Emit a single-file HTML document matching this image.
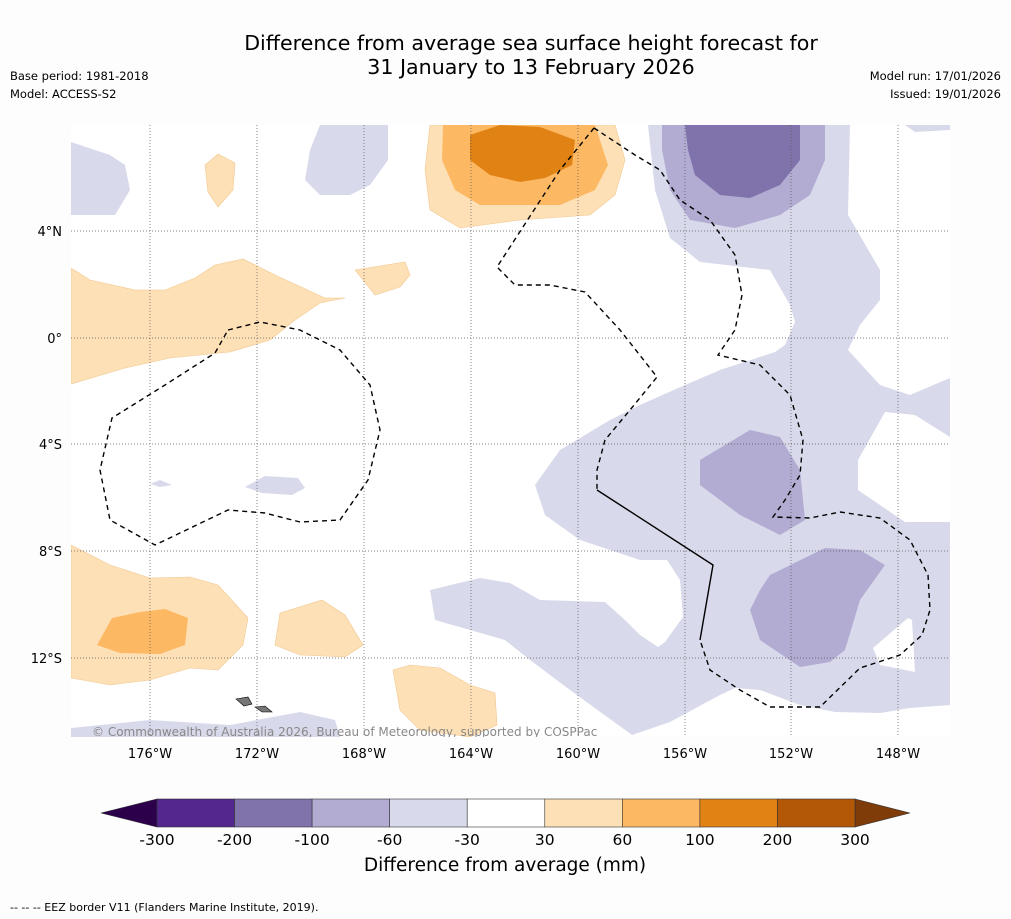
<!DOCTYPE html>
<html><head><meta charset="utf-8"><style>
body{margin:0;background:#fdfdfd;font-family:"DejaVu Sans","Liberation Sans",sans-serif;}
svg{display:block}
</style></head><body>
<svg width="1011" height="919" viewBox="0 0 1011 919">
<rect width="1011" height="919" fill="#fdfdfd"/>
<text x="531" y="50" font-size="20.6" text-anchor="middle" fill="#000">Difference from average sea surface height forecast for</text>
<text x="531" y="74" font-size="20.6" text-anchor="middle" fill="#000">31 January to 13 February 2026</text>
<text x="10" y="80" font-size="11.5">Base period: 1981-2018</text>
<text x="10" y="98" font-size="11.5">Model: ACCESS-S2</text>
<text x="1001" y="80" font-size="11.5" text-anchor="end">Model run: 17/01/2026</text>
<text x="1001" y="98" font-size="11.5" text-anchor="end">Issued: 19/01/2026</text>
<defs><clipPath id="mc"><rect x="71" y="125" width="879" height="612"/></clipPath></defs>
<g clip-path="url(#mc)">
<rect x="71" y="125" width="879" height="612" fill="#fff"/>
<g fill="#d8daeb">
<polygon points="648,125 850,125 848,215 880,270 880,300 860,325 848,350 880,385 910,395 950,378 950,437 915,415 885,412 858,460 858,490 905,522 950,522 950,705 910,708 880,713 835,712 800,705 760,690 735,688 720,695 670,722 632,735 570,690 530,660 505,640 435,620 430,590 480,578 510,583 540,600 605,602 625,620 640,635 658,647 665,642 683,617 680,580 667,560 640,560 580,540 545,515 535,485 560,450 610,420 640,405 685,385 720,370 775,352 785,345 795,322 790,305 770,270 700,262 670,238 655,190"/>
<polygon points="71,142 110,155 125,165 130,190 115,215 71,215"/>
<polygon points="320,125 388,125 388,160 370,185 350,195 320,195 305,180 310,150"/>
<polygon points="905,125 950,125 950,130 915,132"/>
<polygon points="71,728 150,720 230,725 300,712 335,720 340,737 71,737"/>
<polygon points="150,484 160,480 172,485 160,487"/>
<polygon points="245,487 265,476 298,478 305,488 292,495 262,493"/>
</g>
<polygon fill="#fff" points="873,648 908,618 912,620 915,672 880,665"/>
<g fill="#b2abd2">
<polygon points="662,125 825,125 825,160 810,195 780,215 735,228 690,220 670,190 662,150"/>
<polygon points="700,460 750,430 780,437 800,470 805,520 780,535 740,515 700,485"/>
<polygon points="770,575 825,548 860,550 885,565 860,600 845,650 830,662 800,667 760,640 750,610 760,590"/>
</g>
<polygon fill="#8073ac" points="685,125 800,125 800,160 780,185 750,198 720,195 695,175 688,150"/>
<g fill="#fee0b6" stroke="#f0c890" stroke-width="0.6">
<polygon points="430,125 615,125 625,160 615,195 590,215 520,220 460,228 430,210 425,170"/>
<polygon points="71,268 90,280 135,290 165,290 195,278 215,265 243,259 275,275 325,298 345,298 320,303 295,320 270,340 230,352 170,358 125,368 71,384"/>
<polygon points="205,165 218,154 235,163 233,190 218,207 208,192"/>
<polygon points="355,270 405,262 410,275 400,287 375,295"/>
<polygon points="71,545 110,565 150,578 190,577 218,585 248,618 243,645 218,670 190,668 150,680 110,685 71,678"/>
<polygon points="280,613 322,600 345,615 363,645 345,657 300,655 275,645"/>
<polygon points="393,670 410,665 440,668 470,685 495,693 497,725 470,737 420,730 400,710"/>
</g>
<g fill="#fdb863">
<polygon points="443,125 595,125 608,165 595,190 560,205 480,205 455,190 442,160"/>
<polygon points="97,645 112,618 140,612 165,609 188,618 185,645 160,654 120,653"/>
</g>
<polygon fill="#e08214" points="470,135 500,125 540,127 575,140 572,165 545,178 520,182 490,175 470,160"/>
<g stroke="#555" stroke-width="0.7" stroke-dasharray="1,2">
<line x1="150" y1="125" x2="150" y2="737"/><line x1="257" y1="125" x2="257" y2="737"/><line x1="364" y1="125" x2="364" y2="737"/><line x1="471" y1="125" x2="471" y2="737"/><line x1="578" y1="125" x2="578" y2="737"/><line x1="685" y1="125" x2="685" y2="737"/><line x1="791" y1="125" x2="791" y2="737"/><line x1="898" y1="125" x2="898" y2="737"/>
<line x1="71" y1="231" x2="950" y2="231"/><line x1="71" y1="338" x2="950" y2="338"/><line x1="71" y1="444" x2="950" y2="444"/><line x1="71" y1="551" x2="950" y2="551"/><line x1="71" y1="658" x2="950" y2="658"/>
</g>
<g fill="none" stroke="#000" stroke-width="1.4">
<polyline stroke-dasharray="5,4" points="594,128 560,170 497,267 515,285 550,285 585,292 620,330 657,377 630,410 605,440 597,470 597,490"/>
<polyline points="597,490 713,565 700,640"/>
<polyline stroke-dasharray="5,4" points="594,128 635,155 660,170 680,200 710,220 735,255 742,295 735,330 718,355 760,365 790,395 803,440 800,475 785,500 773,517 810,518 840,512 880,518 910,540 928,575 930,610 922,635 900,655 860,668 820,707 770,707 740,690 710,670 700,640"/>
<polygon stroke-dasharray="5,4" points="228,330 260,322 300,330 340,350 370,385 380,430 368,480 340,520 300,522 265,513 228,510 155,545 110,520 100,470 112,418 165,385 215,353"/>
</g>
<g fill="#777" stroke="#000" stroke-width="0.6">
<polygon points="236,699 248,697 252,704 244,706"/><polygon points="255,707 265,706 272,712 262,712"/>
</g>
<text x="92" y="736" font-size="12" fill="#888">© Commonwealth of Australia 2026, Bureau of Meteorology, supported by COSPPac</text>
</g>
<g font-size="13" fill="#000">
<text x="62" y="236" text-anchor="end">4°N</text><text x="62" y="343" text-anchor="end">0°</text><text x="62" y="449" text-anchor="end">4°S</text><text x="62" y="556" text-anchor="end">8°S</text><text x="62" y="663" text-anchor="end">12°S</text>
<text x="150" y="758" text-anchor="middle">176°W</text><text x="257" y="758" text-anchor="middle">172°W</text><text x="364" y="758" text-anchor="middle">168°W</text><text x="471" y="758" text-anchor="middle">164°W</text><text x="578" y="758" text-anchor="middle">160°W</text><text x="685" y="758" text-anchor="middle">156°W</text><text x="791" y="758" text-anchor="middle">152°W</text><text x="898" y="758" text-anchor="middle">148°W</text>
</g>
<g id="cbar"></g>
<text x="505" y="871" font-size="18.5" text-anchor="middle">Difference from average (mm)</text>
<text x="10" y="911" font-size="11">-- -- -- EEZ border V11 (Flanders Marine Institute, 2019).</text>
</svg>
<script>
const levels=[-300,-200,-100,-60,-30,30,60,100,200,300];
const colors=["#54278f","#8073ac","#b2abd2","#d8daeb","#ffffff","#fee0b6","#fdb863","#e08214","#b35806"];
const ns="http://www.w3.org/2000/svg";
const g=document.getElementById('cbar');
const x0=157,x1=855,y0=799,h=28,w=(x1-x0)/colors.length;
function mk(t,a){const e=document.createElementNS(ns,t);for(const k in a)e.setAttribute(k,a[k]);g.appendChild(e);return e;}
let tl=mk('polygon',{points:`101,${y0+h/2} ${x0},${y0} ${x0},${y0+h}`,fill:'#2d004b',stroke:'#333','stroke-width':0.6});


let tr=mk('polygon',{points:`910,${y0+h/2} ${x1},${y0} ${x1},${y0+h}`,fill:'#7f3b08',stroke:'#333','stroke-width':0.6});


colors.forEach((c,i)=>{
 const r=mk('rect',{x:x0+i*w,y:y0,width:w,height:h,fill:c,stroke:'#333','stroke-width':0.6});
 
 
});
levels.forEach((v,i)=>{
 const t=mk('text',{x:x0+i*w,y:845,'font-size':15.5,'text-anchor':'middle'});
 t.textContent=v;
 
 
});
</script>
</body></html>
